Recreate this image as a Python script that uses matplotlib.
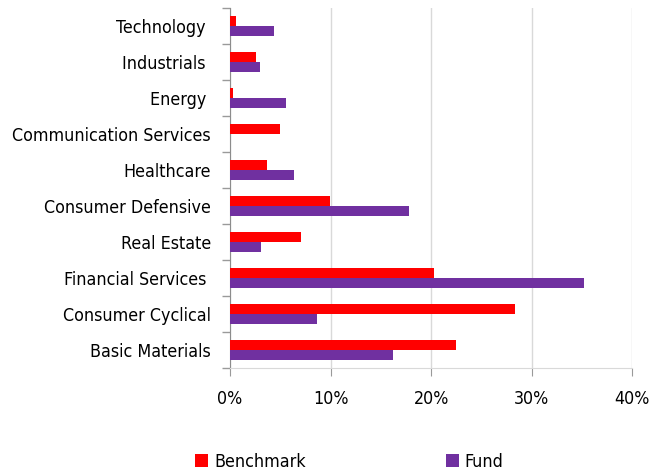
import matplotlib
matplotlib.use("Agg")
import matplotlib.pyplot as plt
import numpy as np
from matplotlib.ticker import PercentFormatter

plt.rcParams['font.family'] = ['DejaVu Sans']
plt.rcParams['font.stretch'] = 'condensed'

# categories listed bottom to top
sectors = ["Basic Materials", "Consumer Cyclical", "Financial Services ", "Real Estate",
           "Consumer Defensive", "Healthcare", "Communication Services", "Energy ",
           "Industrials ", "Technology "]
benchmark = [22.5, 28.35, 20.25, 7.05, 9.95, 3.7, 5.0, 0.25, 2.55, 0.55]
fund = [16.2, 8.6, 35.2, 3.05, 17.8, 6.4, 0.0, 5.6, 2.95, 4.35]

red = "#ff0000"
purple = "#7030a0"
fs = 12.8

fig = plt.figure(figsize=(6.67, 4.73), dpi=100)
ax = fig.add_axes([0.345, 0.222, 0.603, 0.761])

y = np.arange(len(sectors))
h = 0.29
ax.barh(y + h / 2, benchmark, height=h, color=red, label="Benchmark", zorder=3)
ax.barh(y - h / 2, fund, height=h, color=purple, label="Fund", zorder=3)

ax.set_ylim(-0.5, len(sectors) - 0.5)
ax.set_xlim(0, 40)
ax.set_xticks([0, 10, 20, 30, 40])
ax.xaxis.set_major_formatter(PercentFormatter(decimals=0))
ax.set_yticks(y)
ax.set_yticklabels(sectors)
ax.set_yticks(np.arange(len(sectors) + 1) - 0.5, minor=True)
ax.tick_params(axis='y', which='major', length=0, pad=13.7, labelsize=fs)
ax.tick_params(axis='y', which='minor', length=6, color="#9a9a9a", width=1)
ax.tick_params(axis='x', length=6, color="#9a9a9a", pad=10, labelsize=fs)
ax.grid(axis='x', color="#d9d9d9", linewidth=1, zorder=0)

for s in ['top', 'right']:
    ax.spines[s].set_visible(False)
ax.spines['left'].set_color("#8c8c8c")
ax.spines['bottom'].set_color("#d9d9d9")

fig.legend(loc='center', bbox_to_anchor=(0.524, 0.024), ncol=2, frameon=False,
           fontsize=fs, handlelength=0.7, handleheight=0.7, handletextpad=0.35,
           columnspacing=7.9)

fig.savefig("out.png", dpi=100)
